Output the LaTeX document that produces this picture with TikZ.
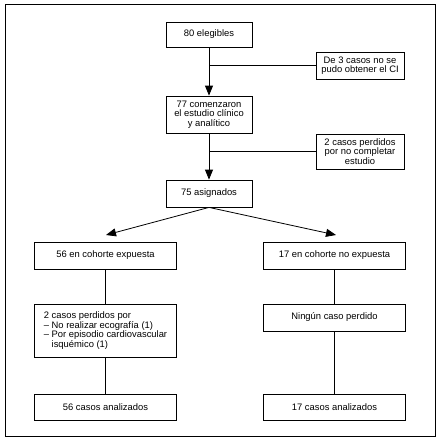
\documentclass[tikz,border=0pt]{standalone}
\usepackage{fontspec}
\setmainfont{Liberation Sans}
\usetikzlibrary{arrows.meta}
\newcommand\flowfont{\fontsize{9.4}{9.6}\selectfont}
\begin{document}
\begin{tikzpicture}[x=1pt,y=-1pt,
  box/.style={draw, line width=0.8pt, inner sep=0pt, align=center, font=\flowfont},
  ln/.style={line width=0.8pt},
  arr/.style={line width=0.8pt, -{Triangle[length=10pt,width=8pt]}}]
\fill[white] (0,0) rectangle (439,442);
\useasboundingbox (0,0) rectangle (439,442);
\draw[line width=1pt] (5,4) rectangle (435,436);
\node[box, minimum width=86pt, minimum height=25pt] (a80) at (209,34.5) {80 elegibles};
\node[box, minimum width=88pt, minimum height=27pt] (de3) at (360,65.5) {De 3 casos no se\\pudo obtener el CI};
\node[box, minimum width=86pt, minimum height=37pt] (a77) at (209,114.5) {77 comenzaron\\el estudio clínico\\y analítico};
\node[box, minimum width=88pt, minimum height=35pt] (p2) at (360,151.5) {2 casos perdidos\\por no completar\\estudio};
\node[box, minimum width=86pt, minimum height=27pt] (a75) at (209,193.5) {75 asignados};
\node[box, minimum width=142pt, minimum height=27pt] (c56) at (105.5,255.5) {56 en cohorte expuesta};
\node[box, minimum width=142pt, minimum height=27pt] (c17) at (334.5,255.5) {17 en cohorte no expuesta};
\node[box, minimum width=142pt, minimum height=53pt, align=left] (l2) at (105.5,330.5) {2 casos perdidos por\\– No realizar ecografía (1)\\– Por episodio cardiovascular\\\hphantom{– }isquémico (1)};
\node[box, minimum width=142pt, minimum height=27pt] (n0) at (334.5,317.5) {Ningún caso perdido};
\node[box, minimum width=142pt, minimum height=26pt] (f56) at (105.5,407) {56 casos analizados};
\node[box, minimum width=142pt, minimum height=26pt] (f17) at (334.5,407) {17 casos analizados};
\coordinate (tl) at (106,235);
\coordinate (tr) at (336,235);
\draw[arr] (a80) -- (a77);
\draw[ln] (de3.west) -- (de3.west -| a80.south);
\draw[arr] (a77) -- (a75);
\draw[ln] (p2.west) -- (p2.west -| a77.south);
\draw[arr] (a75.south) -- (tl);
\draw[arr] (a75.south) -- (tr);
\draw[ln] (c56) -- (l2);
\draw[ln] (l2) -- (f56);
\draw[ln] (c17) -- (n0);
\draw[ln] (n0) -- (f17);
\end{tikzpicture}
\end{document}
